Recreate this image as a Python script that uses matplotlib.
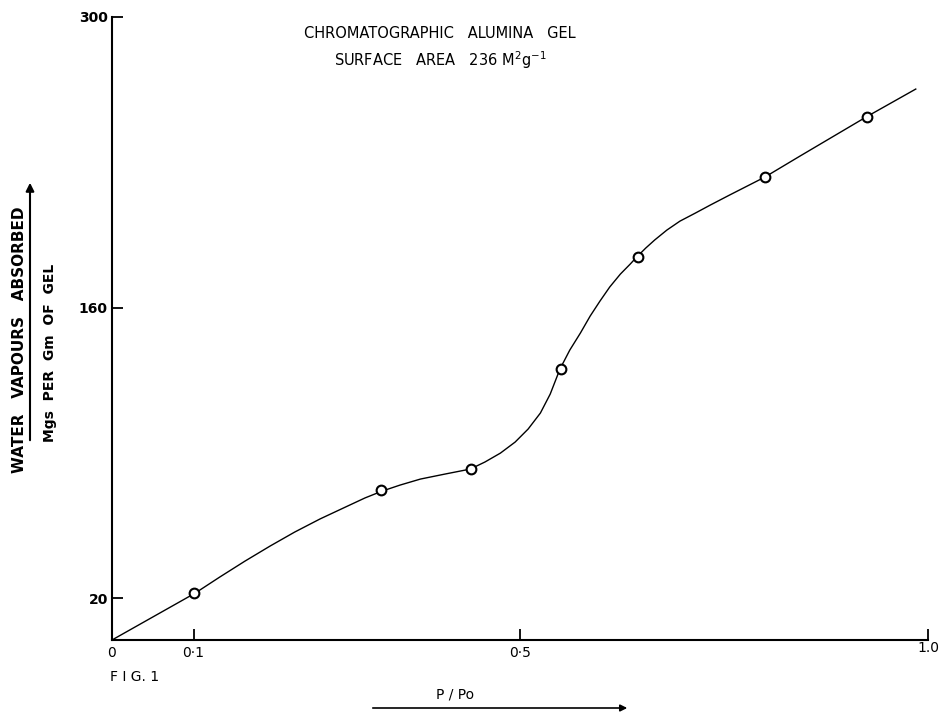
"""
Water vapour adsorption isotherm on chromatographic alumina gel (Fig. 1)
"""

import numpy as np
import matplotlib.pyplot as plt
import matplotlib.transforms as mtransforms

### Data
pp0 = [0.10, 0.33, 0.44, 0.55, 0.645, 0.80, 0.925]
uptake = [22.6, 72.0, 82.3, 130.5, 184.4, 222.9, 251.8]

# hand-drawn curve traced through the points
curve_x = [0.0, 0.102, 0.132, 0.163, 0.194, 0.224, 0.255, 0.286, 0.310,
           0.331, 0.353, 0.378, 0.408, 0.439, 0.457, 0.476, 0.494, 0.510,
           0.525, 0.537, 0.549, 0.561, 0.574, 0.586, 0.598, 0.610, 0.623,
           0.635, 0.643, 0.654, 0.665, 0.680, 0.696, 0.715, 0.733, 0.757,
           0.800, 0.843, 0.924, 0.985]
curve_y = [0.0, 22.6, 30.3, 38.0, 45.3, 52.0, 58.3, 64.0, 68.4,
           71.7, 74.6, 77.5, 79.9, 82.3, 85.7, 90.0, 95.3, 101.6,
           109.3, 118.4, 130.5, 139.6, 147.8, 156.0, 163.2, 170.0, 176.2,
           181.0, 184.4, 188.7, 192.6, 197.4, 201.7, 205.6, 209.4, 214.3,
           222.9, 233.0, 251.8, 265.3]

xticks = [0.0, 0.1, 0.5, 1.0]
xticklabels = ['0', '0\u00b71', '0\u00b75', '1.0']
yticks = [20, 160, 300]
yticklabels = ['20', '160', '300']

### Plot
W, H = 941, 715
fig = plt.figure(figsize=(W / 100, H / 100), dpi=100)
ax = fig.add_axes([112 / W, 1 - 640 / H, 816 / W, 623 / H])

ax.plot(curve_x, curve_y, color='k', linewidth=1.0)
ax.plot(pp0, uptake, linestyle='none', marker='o', markersize=7,
        markerfacecolor='white', markeredgecolor='k', markeredgewidth=1.5)

ax.set_xlim(0, 1.0)
ax.set_ylim(0, 300)
for s in ['top', 'right']:
    ax.spines[s].set_visible(False)
for s in ['left', 'bottom']:
    ax.spines[s].set_linewidth(1.5)

ax.set_xticks(xticks)
ax.set_xticklabels(xticklabels)
ax.set_yticks(yticks)
ax.set_yticklabels(yticklabels, fontweight='bold')
ax.tick_params(axis='both', direction='in', length=8, width=1.3,
               labelsize=10, pad=4)
ax.tick_params(axis='y', pad=3)
ax.xaxis.get_major_ticks()[0].tick1line.set_visible(False)

# the 1.0 label sits a little higher in the original
lab = ax.get_xticklabels()[-1]
lab.set_transform(lab.get_transform() +
                  mtransforms.ScaledTranslation(0, 5 / 100,
                                                fig.dpi_scale_trans))

### Titles and labels
fig.text(440 / W, 1 - 33 / H, 'CHROMATOGRAPHIC   ALUMINA   GEL',
         ha='center', va='center', fontsize=10.5)
fig.text(440 / W, 1 - 60 / H, r'SURFACE   AREA   236 M$^{2}$g$^{-1}$',
         ha='center', va='center', fontsize=10.5)

fig.text(20 / W, 1 - 340 / H, 'WATER   VAPOURS   ABSORBED', rotation=90,
         ha='center', va='center', fontsize=11, fontweight='bold')
fig.text(50 / W, 1 - 353 / H, 'Mgs  PER  Gm  OF  GEL', rotation=90,
         ha='center', va='center', fontsize=10, fontweight='bold')
fig.add_artist(plt.Annotation('', xy=(30 / W, 1 - 180 / H),
                              xytext=(30 / W, 1 - 443 / H),
                              xycoords='figure fraction',
                              arrowprops=dict(arrowstyle='-|>', color='k',
                                              lw=1.5, mutation_scale=12)))

fig.text(455 / W, 1 - 695 / H, 'P / Po', ha='center', va='center',
         fontsize=10)
fig.add_artist(plt.Annotation('', xy=(630 / W, 1 - 708 / H),
                              xytext=(370 / W, 1 - 708 / H),
                              xycoords='figure fraction',
                              arrowprops=dict(arrowstyle='-|>', color='k',
                                              lw=1.2, mutation_scale=10)))

fig.text(110 / W, 1 - 677 / H, 'F I G. 1', ha='left', va='center',
         fontsize=10)

plt.savefig('out.png', dpi=100)
